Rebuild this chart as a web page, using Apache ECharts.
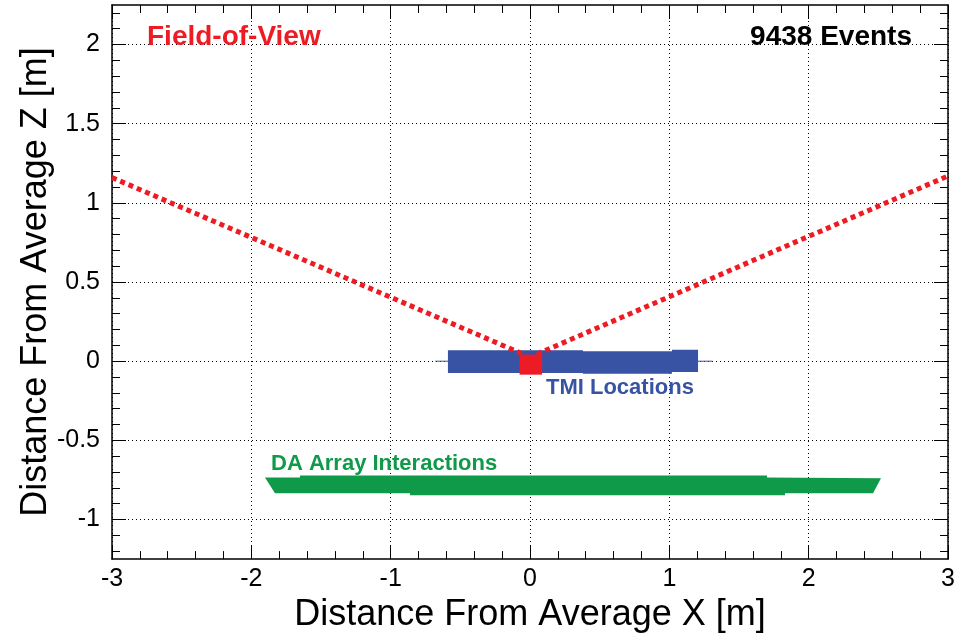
<!DOCTYPE html>
<html><head><meta charset="utf-8">
<script src="https://cdn.jsdelivr.net/npm/echarts@6/dist/echarts.min.js"></script>
<style>html,body{margin:0;padding:0;background:#fff}#c{width:958px;height:638px}</style>
</head><body><div id="c"></div>
<script>
// ---- data ----
const xTickLabels = [-3, -2, -1, 0, 1, 2, 3];
const zMajorTicks = [-1, -0.5, 0, 0.5, 1, 1.5, 2];
const zMinorTicks = [-1.2,-1.1,-0.9,-0.8,-0.7,-0.6,-0.4,-0.3,-0.2,-0.1,0.1,0.2,0.3,0.4,0.6,0.7,0.8,0.9,1.1,1.2,1.3,1.4,1.6,1.7,1.8,1.9,2.1,2.2];
const fovLeft = [[-3, 1.16], [-0.05, 0.045]];
const fovRight = [[0.05, 0.045], [3, 1.17]];
const tmiWhisker = [[-0.68, 0], [1.31, 0]];
const tmiBandX = [-0.589, 0.380, 0.380, 1.019, 1.019, 1.206, 1.206, 1.019, 1.019, 0.380, 0.380, -0.589];
const tmiBandZ = [0.070, 0.070, 0.063, 0.063, 0.073, 0.073, -0.068, -0.068, -0.080, -0.080, -0.075, -0.075];
const detectorX = [-0.075, 0.087, 0.087, -0.075];
const detectorZ = [0.042, 0.042, -0.085, -0.085];
const daBandX = [-1.902, -1.651, -1.651, 1.701, 1.701, 2.519, 2.462, 1.830, 1.830, -0.861, -0.861, -1.830];
const daBandZ = [-0.735, -0.735, -0.722, -0.722, -0.735, -0.740, -0.834, -0.834, -0.846, -0.846, -0.834, -0.834];

const RED = '#ed1c24', BLUE = '#3953a4', GREEN = '#0e9a48';
const FONT = '"Liberation Sans", Arial, Helvetica, sans-serif';

function zip(xs, zs) { return xs.map((x, i) => [x, zs[i]]); }
function polySeries(name, xs, zs, color, z) {
  const pts = zip(xs, zs);
  return {
    type: 'custom', name, z, silent: true,
    data: [pts[0]],
    renderItem: (params, api) => ({
      type: 'polygon',
      shape: { points: pts.map(p => api.coord(p)) },
      style: { fill: color }
    })
  };
}

const chart = echarts.init(document.getElementById('c'), null, { renderer: 'canvas' });
const axisLineStyle = { color: '#000', width: 1.5 };
const baseX = {
  type: 'value', min: xTickLabels[0], max: xTickLabels[xTickLabels.length - 1], interval: 1,
  axisLine: { show: true, onZero: false, lineStyle: axisLineStyle },
  axisTick: { show: true, inside: true, length: 14, lineStyle: { color: '#000', width: 1 } },
  minorTick: { show: true, splitNumber: 5, length: 8, lineStyle: { color: '#000', width: 1 } },
  minorSplitLine: { show: false }
};
const baseY = {
  type: 'value', min: -1.25, max: 2.25,
  axisLine: { show: true, onZero: false, lineStyle: axisLineStyle },
  splitLine: { show: false }
};
const option = {
  animation: false,
  backgroundColor: '#fff',
  grid: { left: 112, right: 10, top: 5, bottom: 75, containLabel: false },
  xAxis: [
    Object.assign({}, baseX, {
      position: 'bottom',
      axisLabel: { show: true, fontSize: 25, color: '#000', margin: 8, fontFamily: FONT },
      splitLine: { show: true, lineStyle: { type: [1, 3], color: '#000', width: 1 } },
      name: 'Distance From Average X [m]', nameLocation: 'middle', nameGap: 32,
      nameTextStyle: { fontSize: 36, color: '#000', fontFamily: FONT }
    }),
    Object.assign({}, baseX, {
      position: 'top',
      axisLabel: { show: false }, splitLine: { show: false }
    })
  ],
  yAxis: [
    Object.assign({}, baseY, {
      position: 'left',
      axisTick: { show: true, inside: true, length: 14, customValues: zMajorTicks, lineStyle: { color: '#000' } },
      axisLabel: { show: true, customValues: zMajorTicks, fontSize: 25, color: '#000', margin: 12, fontFamily: FONT },
      splitLine: { show: true, lineStyle: { type: [1, 3], color: '#000', width: 1 } },
      name: 'Distance From Average Z [m]', nameLocation: 'middle', nameGap: 58, nameMoveOverlap: false,
      nameTextStyle: { fontSize: 36, color: '#000', fontFamily: FONT }
    }),
    Object.assign({}, baseY, {
      position: 'left', axisLine: { show: false, onZero: false },
      axisTick: { show: true, inside: true, length: 8, customValues: zMinorTicks, lineStyle: { color: '#000' } },
      axisLabel: { show: false }
    }),
    Object.assign({}, baseY, {
      position: 'right',
      axisTick: { show: true, inside: true, length: 14, customValues: zMajorTicks, lineStyle: { color: '#000' } },
      axisLabel: { show: false }
    }),
    Object.assign({}, baseY, {
      position: 'right', axisLine: { show: false, onZero: false },
      axisTick: { show: true, inside: true, length: 8, customValues: zMinorTicks, lineStyle: { color: '#000' } },
      axisLabel: { show: false }
    })
  ],
  series: [
    polySeries('DA Array Interactions', daBandX, daBandZ, GREEN, 2),
    { type: 'line', name: 'TMI whisker', data: tmiWhisker, symbol: 'none', z: 2, silent: true,
      lineStyle: { color: BLUE, width: 1 } },
    polySeries('TMI Locations', tmiBandX, tmiBandZ, BLUE, 3),
    { type: 'line', name: 'FOV left', data: fovLeft, symbol: 'none', z: 4, silent: true,
      lineStyle: { color: RED, width: 5, type: [5, 4], cap: 'butt' } },
    { type: 'line', name: 'FOV right', data: fovRight, symbol: 'none', z: 4, silent: true,
      lineStyle: { color: RED, width: 5, type: [5, 4], cap: 'butt' } },
    polySeries('Detector', detectorX, detectorZ, RED, 5)
  ],
  graphic: [
    { type: 'text', x: 147, y: 37, z: 10, style: { text: 'Field-of-View', fill: RED, font: 'bold 28px ' + FONT, align: 'left', verticalAlign: 'middle' } },
    { type: 'text', x: 912, y: 37, z: 10, style: { text: '9438 Events', fill: '#000', font: 'bold 28px ' + FONT, align: 'right', verticalAlign: 'middle' } },
    { type: 'text', x: 546, y: 388, z: 10, style: { text: 'TMI Locations', fill: BLUE, font: 'bold 22px ' + FONT, align: 'left', verticalAlign: 'middle' } },
    { type: 'text', x: 271, y: 464, z: 10, style: { text: 'DA Array Interactions', fill: GREEN, font: 'bold 22px ' + FONT, align: 'left', verticalAlign: 'middle' } }
  ]
};
chart.setOption(option);
</script>
</body></html>
